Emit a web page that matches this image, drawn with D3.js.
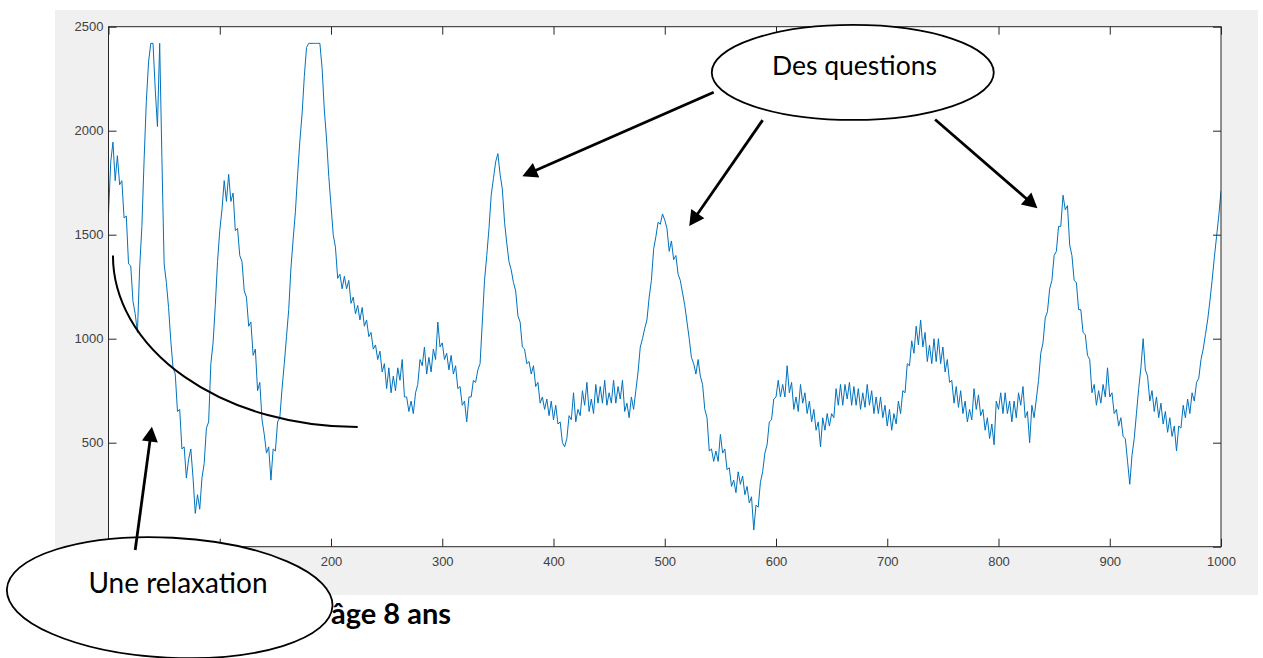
<!DOCTYPE html>
<html>
<head>
<meta charset="utf-8">
<script src="https://cdn.jsdelivr.net/npm/d3@7"></script>
<style>
  body { margin: 0; background: #ffffff; }
  svg { display: block; }
</style>
</head>
<body>
<svg id="chart" width="1263" height="658"></svg>
<script>
// Sample spacing along the x axis (signal is sampled every 2 units, 0 … 1000)
const sampleStep = 2;

// Signal amplitude, x = 0 … 248
const signalA = [
  1600,1850,1945,1760,1880,1740,1760,1580,1590,1360,
  1350,1180,1120,1030,1340,1540,1860,2140,2330,2420,
  2420,2200,2020,2420,1870,1360,1270,1150,990,860,
  830,650,660,470,480,330,420,470,330,160,
  250,180,330,400,570,600,880,980,1160,1370,
  1520,1620,1760,1660,1790,1660,1700,1520,1530,1400,
  1370,1230,1200,1060,1080,920,950,750,790,610,
  540,450,480,320,470,460,600,620,760,880,
  1010,1140,1340,1480,1610,1790,1950,2080,2260,2400,
  2420,2420,2420,2420,2420,2420,2300,2100,1960,1780,
  1640,1500,1440,1290,1310,1240,1300,1240,1280,1170,
  1200,1120,1160,1090,1150,1060,1090,1010,1030,950,
  970,900,940,840,880
];
// x = 250 … 498
const signalB = [
  760,860,740,820,750,860,800,900,720,720,
  650,700,640,740,780,900,870,960,830,910,
  840,950,900,1080,960,980,900,930,850,920,
  830,870,760,770,680,700,600,720,720,800,
  790,850,880,1080,1280,1400,1530,1690,1770,1850,
  1890,1790,1720,1560,1460,1370,1330,1270,1230,1110,
  1080,960,950,880,890,830,870,770,790,690,
  720,660,710,630,700,610,680,590,600,500,
  480,520,630,610,740,600,660,630,750,680,
  790,650,710,640,780,690,770,690,800,680,
  740,690,800,690,770,710,800,650,690,620,
  720,660,750,840,960,1000,1050,1090,1200,1280,
  1430,1490,1560,1550,1600
];
// x = 500 … 748
const signalC = [
  1570,1530,1420,1470,1380,1400,1310,1280,1220,1160,
  1080,1000,910,880,830,900,820,780,660,620,
  460,470,410,460,410,540,450,470,370,380,
  290,320,260,360,300,340,250,290,210,240,
  80,200,190,310,360,450,490,600,610,710,
  720,800,720,780,720,870,740,790,660,720,
  650,780,690,740,640,700,600,660,560,600,
  480,620,560,640,580,640,620,760,680,780,
  680,780,710,790,680,770,680,760,660,740,
  670,780,680,750,640,720,640,720,620,680,
  580,660,560,640,590,700,640,750,740,880,
  870,990,930,1060,970,1090,960,1030,890,970,
  880,1000,890,1000,880
];
// x = 750 … 1000
const signalD = [
  960,840,900,790,800,690,770,670,750,640,
  700,600,660,610,760,660,730,630,660,560,
  620,520,590,490,700,660,740,640,740,640,
  700,600,700,620,740,680,770,620,650,500,
  680,620,710,800,930,980,1100,1130,1240,1280,
  1400,1420,1540,1540,1690,1620,1640,1450,1400,1280,
  1270,1140,1140,1030,1020,920,900,740,780,680,
  750,690,780,720,860,720,740,640,660,580,
  620,530,520,410,300,440,520,640,760,860,
  1000,850,820,700,750,650,720,620,690,590,
  650,550,620,530,580,460,580,570,680,620,
  710,640,740,700,790,810,900,950,1020,1090,
  1180,1280,1390,1490,1590,1710
];

const xTicks = [0, 100, 200, 300, 400, 500, 600, 700, 800, 900, 1000];
const yTicks = [0, 500, 1000, 1500, 2000, 2500];
// tick values whose labels sit behind the relaxation bubble
const xLabelsUnderBubble = [0, 100];
const yLabelsUnderBubble = [0];

const titleText = "âge 8 ans";
const questionsLabel = "Des questions";
const relaxationLabel = "Une relaxation";

// Callout anchors, in data units
const questionArrows = [
  { from: [544, 2185], to: [372, 1781] },
  { from: [588, 2051], to: [522, 1542] },
  { from: [743, 2054], to: [835, 1627] }
];
const relaxationArrow = { from: [24, -16], to: [39, 577] };
const relaxationCurve = { from: [4, 1400], to: [224, 575] };
const questionsBubbleCenter = [669, 2280];
const relaxationBubbleCenter = [55, -245];

// ---- layout ----
const plot = { left: 108.5, right: 1221, top: 26.7, bottom: 546.7 };
const figureBg = { x: 55, y: 10, w: 1203, h: 585 };
const lineColor = "#0072BD";
const axisColor = "#262626";

const signal = signalA.concat(signalB, signalC, signalD);

const svg = d3.select("#chart");

const x = d3.scaleLinear().domain([0, 1000]).range([plot.left, plot.right]);
const y = d3.scaleLinear().domain([0, 2500]).range([plot.bottom, plot.top]);

// figure background
svg.append("rect")
  .attr("x", figureBg.x).attr("y", figureBg.y)
  .attr("width", figureBg.w).attr("height", figureBg.h)
  .attr("fill", "#f0f0f0");

// axes background
svg.append("rect")
  .attr("x", plot.left).attr("y", plot.top)
  .attr("width", plot.right - plot.left).attr("height", plot.bottom - plot.top)
  .attr("fill", "#ffffff");

svg.append("clipPath").attr("id", "plotClip")
  .append("rect")
  .attr("x", plot.left).attr("y", plot.top)
  .attr("width", plot.right - plot.left).attr("height", plot.bottom - plot.top);

// signal trace
const line = d3.line()
  .x((d, i) => x(i * sampleStep))
  .y(d => y(d));

svg.append("path")
  .datum(signal)
  .attr("clip-path", "url(#plotClip)")
  .attr("fill", "none")
  .attr("stroke", lineColor)
  .attr("stroke-width", 1)
  .attr("stroke-linejoin", "miter")
  .attr("d", line);

// axes: ticks point inward on all four sides
const tickLen = 8;
const tickFont = "'Liberation Sans', Arial, Helvetica, sans-serif";
const fmt = d3.format("d");

function styleAxis(g) {
  g.select(".domain").remove();
  g.selectAll(".tick line").attr("stroke", axisColor).attr("stroke-width", 1);
  g.selectAll(".tick text")
    .attr("fill", "#404040")
    .style("font-family", tickFont)
    .style("font-size", "13px");
}

svg.append("g")
  .attr("transform", `translate(0,${plot.bottom})`)
  .call(d3.axisBottom(x).tickValues(xTicks).tickSizeInner(-tickLen).tickSizeOuter(0).tickPadding(10)
    .tickFormat(d => xLabelsUnderBubble.includes(d) ? "" : fmt(d)))
  .call(styleAxis);

svg.append("g")
  .attr("transform", `translate(0,${plot.top})`)
  .call(d3.axisTop(x).tickValues(xTicks).tickSizeInner(-tickLen).tickSizeOuter(0).tickFormat(""))
  .call(styleAxis);

svg.append("g")
  .attr("transform", `translate(${plot.left},0)`)
  .call(d3.axisLeft(y).tickValues(yTicks).tickSizeInner(-tickLen).tickSizeOuter(0).tickPadding(5)
    .tickFormat(d => yLabelsUnderBubble.includes(d) ? "" : fmt(d)))
  .call(styleAxis);

svg.append("g")
  .attr("transform", `translate(${plot.right},0)`)
  .call(d3.axisRight(y).tickValues(yTicks).tickSizeInner(-tickLen).tickSizeOuter(0).tickFormat(""))
  .call(styleAxis);

// axes box
svg.append("rect")
  .attr("x", plot.left).attr("y", plot.top)
  .attr("width", plot.right - plot.left).attr("height", plot.bottom - plot.top)
  .attr("fill", "none")
  .attr("stroke", axisColor)
  .attr("stroke-width", 1);

// caption
const calloutFont = "Lato, 'Open Sans', sans-serif";
svg.append("text")
  .attr("x", 451).attr("y", 624)
  .attr("text-anchor", "end")
  .style("font-family", calloutFont)
  .style("font-weight", "bold")
  .style("font-size", "29px")
  .attr("fill", "#000")
  .text(titleText);

// ---- annotations ----
const ann = svg.append("g");

function drawArrow(a) {
  const x0 = x(a.from[0]), y0 = y(a.from[1]);
  const x1 = x(a.to[0]), y1 = y(a.to[1]);
  const dx = x1 - x0, dy = y1 - y0;
  const len = Math.hypot(dx, dy);
  const ux = dx / len, uy = dy / len;
  const headLen = 15, headHalf = 8;
  const bx = x1 - ux * headLen, by = y1 - uy * headLen;
  ann.append("line")
    .attr("x1", x0).attr("y1", y0).attr("x2", bx + ux * 2).attr("y2", by + uy * 2)
    .attr("stroke", "#000").attr("stroke-width", 2.8);
  ann.append("path")
    .attr("d", `M${x1},${y1}L${bx - uy * headHalf},${by + ux * headHalf}L${bx + uy * headHalf},${by - ux * headHalf}Z`)
    .attr("fill", "#000");
}

// relaxation curve: a quarter ellipse from vertical to horizontal
{
  const sx = x(relaxationCurve.from[0]), sy = y(relaxationCurve.from[1]);
  const ex = x(relaxationCurve.to[0]), ey = y(relaxationCurve.to[1]);
  ann.append("path")
    .attr("d", `M${sx},${sy}A${ex - sx},${ey - sy} 0 0 0 ${ex},${ey}`)
    .attr("fill", "none")
    .attr("stroke", "#000")
    .attr("stroke-width", 2);
}

// relaxation bubble
{
  const cx = x(relaxationBubbleCenter[0]), cy = y(relaxationBubbleCenter[1]);
  ann.append("ellipse")
    .attr("cx", cx).attr("cy", cy)
    .attr("rx", 163).attr("ry", 60)
    .attr("transform", `rotate(3,${cx},${cy})`)
    .attr("fill", "#fff").attr("stroke", "#000").attr("stroke-width", 1.8);
  ann.append("text")
    .attr("x", 178).attr("y", 592.5)
    .attr("text-anchor", "middle")
    .style("font-family", calloutFont)
    .style("font-size", "28px")
    .attr("fill", "#000")
    .text(relaxationLabel);
}
drawArrow(relaxationArrow);

// questions bubble
{
  const cx = x(questionsBubbleCenter[0]), cy = y(questionsBubbleCenter[1]);
  ann.append("ellipse")
    .attr("cx", cx).attr("cy", cy)
    .attr("rx", 141).attr("ry", 47.5)
    .attr("fill", "#fff").attr("stroke", "#000").attr("stroke-width", 1.8);
  ann.append("text")
    .attr("x", 854.5).attr("y", 75)
    .attr("text-anchor", "middle")
    .style("font-family", calloutFont)
    .style("font-size", "26.5px")
    .attr("fill", "#000")
    .text(questionsLabel);
}
questionArrows.forEach(drawArrow);
</script>
</body>
</html>
